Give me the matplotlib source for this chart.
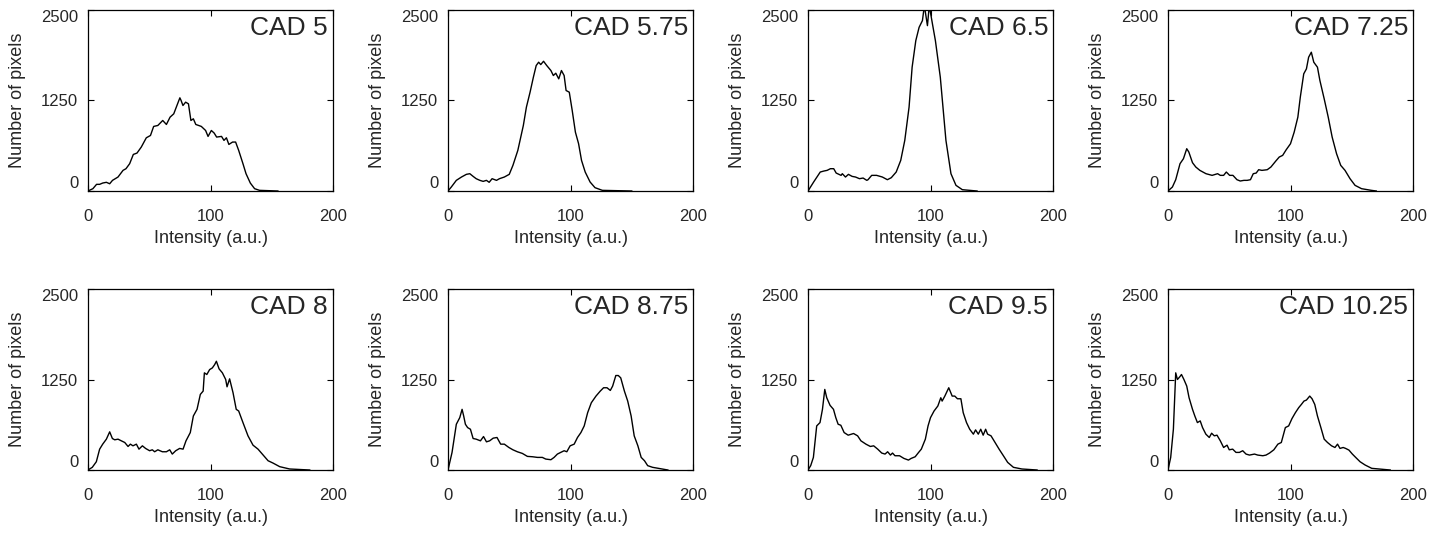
import numpy as np
import matplotlib
matplotlib.use("Agg")
import matplotlib.pyplot as plt

plt.rcParams['font.family'] = ['Liberation Sans', 'DejaVu Sans']

# Histogram curves (intensity, number of pixels)
labels = ["CAD 5", "CAD 5.75", "CAD 6.5", "CAD 7.25",
          "CAD 8", "CAD 8.75", "CAD 9.5", "CAD 10.25"]

cad5_x = [0, 4, 7, 9.5, 12, 15, 17.7, 20, 24.5, 28.6, 31, 34, 37, 40, 43.5, 47.6, 51, 53.6, 57, 61,
          64, 67, 70, 72.6, 75, 76, 77.5, 79.7, 82, 84, 86, 88, 92.5, 96, 98, 100.7, 103, 105, 109,
          111, 113, 115, 118, 120.5, 123, 126.5, 129, 132.5, 136, 140, 155]
cad5_y = [0, 32, 92, 92, 110, 120, 100, 147, 193, 285, 308, 377, 505, 524, 607, 735, 767, 892, 905, 974,
          919, 1020, 1066, 1181, 1287, 1250, 1181, 1227, 1204, 974, 997, 919, 892, 836, 754, 836, 800, 745, 754,
          699, 735, 643, 676, 676, 561, 377, 239, 110, 32, 9, 0]

cad575_x = [0, 2.7, 6.8, 11, 15, 17.8, 20.5, 23, 26, 28.7, 31.4, 33.6, 36, 39.6, 42, 46, 50, 53, 57, 61.5,
            64, 67, 69.7, 72, 74, 75.7, 78, 80.6, 84, 86, 88, 90.4, 92.6, 94.8, 96.4, 99, 101.4, 104, 106.6,
            109, 112, 116, 120, 126, 150]
cad575_y = [0, 55, 147, 193, 230, 239, 202, 170, 147, 133, 147, 120, 170, 147, 170, 193, 230, 354, 561, 905,
            1158, 1365, 1572, 1733, 1779, 1746, 1792, 1733, 1664, 1595, 1627, 1549, 1664, 1595, 1388, 1365, 1112, 813, 653,
            423, 262, 124, 46, 9, 0]

cad65_x = [0, 4.6, 10, 13, 15.6, 18.3, 21, 23, 27, 28, 30.6, 33, 36, 38.8, 42, 45, 48, 49, 52, 56,
           60.7, 64.8, 68, 72, 75.7, 79, 82.5, 85, 88, 90.7, 93.4, 95, 97.5, 99, 101.6, 104, 108, 112.6,
           116.7, 120.8, 126, 138]
cad65_y = [0, 124, 262, 276, 285, 308, 308, 248, 216, 239, 193, 230, 202, 193, 170, 179, 147, 156, 216, 216,
           193, 156, 184, 262, 423, 699, 1158, 1710, 2077, 2261, 2353, 2560, 2284, 2560, 2307, 2077, 1572, 699,
           239, 78, 18, 0]

cad725_x = [0, 3.6, 6.3, 9.8, 12.6, 15.3, 17, 20, 22.7, 26, 31, 36, 40.5, 42.7, 45.4, 47.6, 50.3, 53, 56.3,
            59, 62, 64.6, 67.3, 69.6, 72, 74, 76.7, 81, 84, 88, 90.8, 93.6, 96.5, 100, 103, 106, 108, 110.8,
            113, 114.8, 117, 119, 122, 124, 127.5, 130.8, 134, 137.6, 141, 144.5, 148.6, 152.7, 158, 166, 170]
cad725_y = [0, 55, 156, 377, 446, 584, 538, 391, 331, 285, 239, 216, 239, 216, 216, 262, 216, 216, 156,
            138, 147, 147, 156, 239, 248, 294, 285, 294, 331, 414, 469, 492, 570, 653, 813, 1020, 1296, 1618,
            1687, 1848, 1917, 1779, 1710, 1526, 1273, 1020, 745, 515, 354, 285, 170, 78, 32, 9, 0]

cad8_x = [0, 3.5, 6.8, 9.5, 12, 15, 17.7, 19.9, 21.8, 24.5, 27.2, 30, 32.7, 34.6, 36.7, 39.5, 41.6, 44.4,
          47, 50.3, 52.5, 54.4, 57, 60.7, 64, 66.7, 68.8, 71.6, 74.8, 77.6, 80, 83.5, 86, 89, 91.7, 94, 95,
          97, 99.3, 101.5, 103.4, 104.8, 107, 109.7, 112.4, 113.5, 115.6, 118.4, 121, 123, 126.5, 130.6,
          134.7, 138.8, 143, 147, 151, 156.5, 164.6, 181]
cad8_y = [0, 37, 114, 288, 357, 426, 527, 435, 417, 426, 403, 380, 325, 357, 334, 357, 288, 334,
          298, 266, 279, 252, 279, 252, 252, 279, 220, 266, 298, 288, 403, 517, 746, 838, 1044, 1090, 1342,
          1319, 1387, 1410, 1456, 1502, 1397, 1342, 1250, 1149, 1259, 1067, 838, 815, 655, 472,
          343, 288, 206, 128, 96, 46, 14, 0]

cad875_x = [0, 3.3, 6.8, 9.6, 11.5, 12.8, 14.2, 16, 18.3, 20.5, 23, 26.5, 29, 31.4, 34, 36.9, 40, 43, 46,
            49.7, 53, 56.6, 60.7, 64.8, 69, 73, 77, 79.8, 84, 86.6, 89.3, 92, 94.8, 97, 99.7, 103, 105.7,
            108.5, 111.2, 114, 117, 120.8, 124.3, 127, 129.8, 132.5, 134.4, 137, 139, 141, 144, 146.7,
            149.5, 152, 155, 157.7, 160.4, 163, 167, 179.5]
cad875_y = [0, 243, 632, 723, 838, 746, 632, 586, 563, 435, 426, 403, 462, 389, 403, 440, 449, 357, 357,
            311, 279, 252, 229, 188, 183, 174, 174, 151, 142, 174, 220, 243, 266, 252, 334, 357, 449,
            517, 609, 792, 929, 1021, 1090, 1136, 1136, 1099, 1159, 1305, 1305, 1273, 1090, 952,
            746, 472, 334, 174, 128, 60, 37, 0]

cad95_x = [0, 2.2, 4.4, 7.1, 9.8, 11.8, 13.7, 15.3, 18, 20.8, 22.7, 24.6, 26.8, 29.5, 32.8, 37.2, 40.5,
           43.2, 47.3, 50.9, 53.6, 56.9, 60.2, 62.9, 65, 67.3, 69, 71, 74.7, 78.3, 82, 84.2, 87.5, 90.3,
           92.5, 95.8, 98, 100, 102.9, 106, 108.4, 109.5, 111.7, 114.9, 117.7, 119.8, 122, 124.8, 126.7,
           129.4, 132, 135, 136.8, 139, 141, 143, 145, 146.6, 149.4, 152.7, 156, 159.5, 163, 167.7,
           174.6, 187]
cad95_y = [0, 60, 174, 609, 655, 838, 1113, 998, 893, 838, 723, 632, 618, 517, 481, 504, 472,
           403, 357, 325, 334, 288, 234, 220, 252, 206, 234, 197, 197, 160, 137, 160, 183, 243,
           288, 426, 609, 723, 815, 884, 998, 952, 1021, 1136, 1021, 1021, 984, 984, 792,
           655, 563, 495, 554, 495, 563, 481, 563, 495, 472, 380, 288, 197, 105, 37,
           14, 0]

cad1025_x = [0, 2.2, 4.4, 6.3, 7.7, 9.6, 11, 13, 15.3, 17.2, 20, 21.9, 24, 26.3, 28.2, 30.9, 33.7, 35.6,
             37.8, 40, 42.7, 45.4, 48.2, 50, 52.8, 55.5, 58.3, 61, 63.7, 66.5, 70.6, 73.3, 77.4, 80, 82.9,
             86.4, 89.7, 92.5, 95.8, 98.5, 101.2, 104, 106.7, 108.9, 111, 113, 115.7, 117.6, 119.8, 122,
             124.8, 127.5, 130.2, 133.5, 136.3, 138.4, 140.4, 143, 145, 147.7, 150.5, 153.2, 156.8,
             160.9, 166.3, 181.4]
cad1025_y = [0, 174, 563, 1342, 1250, 1287, 1319, 1250, 1159, 998, 838, 746, 655, 678, 586, 495, 449, 508,
             472, 481, 403, 311, 343, 279, 288, 243, 243, 266, 220, 206, 220, 206, 197, 206, 234,
             279, 357, 380, 586, 609, 710, 792, 861, 906, 952, 966, 1021, 984, 906, 746,
             586, 426, 380, 334, 311, 357, 298, 311, 298, 275, 220, 174, 114,
             69, 23, 0]

series = [(cad5_x, cad5_y), (cad575_x, cad575_y), (cad65_x, cad65_y), (cad725_x, cad725_y),
          (cad8_x, cad8_y), (cad875_x, cad875_y), (cad95_x, cad95_y), (cad1025_x, cad1025_y)]

text_color = "#262626"
fig = plt.figure(figsize=(14.44, 5.36), dpi=100)

W, H = 1444, 536
for i, ((x, y), lab) in enumerate(zip(series, labels)):
    row, col = divmod(i, 4)
    left = 88 + 360 * col
    top = 10 if row == 0 else 289
    ax = fig.add_axes([left / W, 1 - (top + 181) / H, 245 / W, 181 / H])
    ax.plot(x, y, color="black", lw=1.0)
    ax.set_xlim(0, 200)
    ax.set_ylim(0, 2500)
    ax.set_xticks([0, 100, 200])
    ax.set_yticks([0, 1250, 2500])
    ax.tick_params(direction="in", length=4, width=0.8, top=True, right=True,
                   labelsize=12, labelcolor=text_color)
    ax.tick_params(axis="x", pad=13)
    ax.tick_params(axis="y", pad=7)
    yl = ax.get_yticklabels()
    yl[0].set_verticalalignment("bottom")
    yl[-1].set_verticalalignment("top")
    for s in ax.spines.values():
        s.set_linewidth(0.9)
    ax.set_xlabel("Intensity (a.u.)", fontsize=13, color=text_color, labelpad=4)
    ax.set_ylabel("Number of pixels", fontsize=13, color=text_color, labelpad=11)
    ax.text(0.98, 0.965, lab, transform=ax.transAxes, ha="right", va="top",
            fontsize=19, color=text_color)

fig.savefig("out.png", dpi=100)
